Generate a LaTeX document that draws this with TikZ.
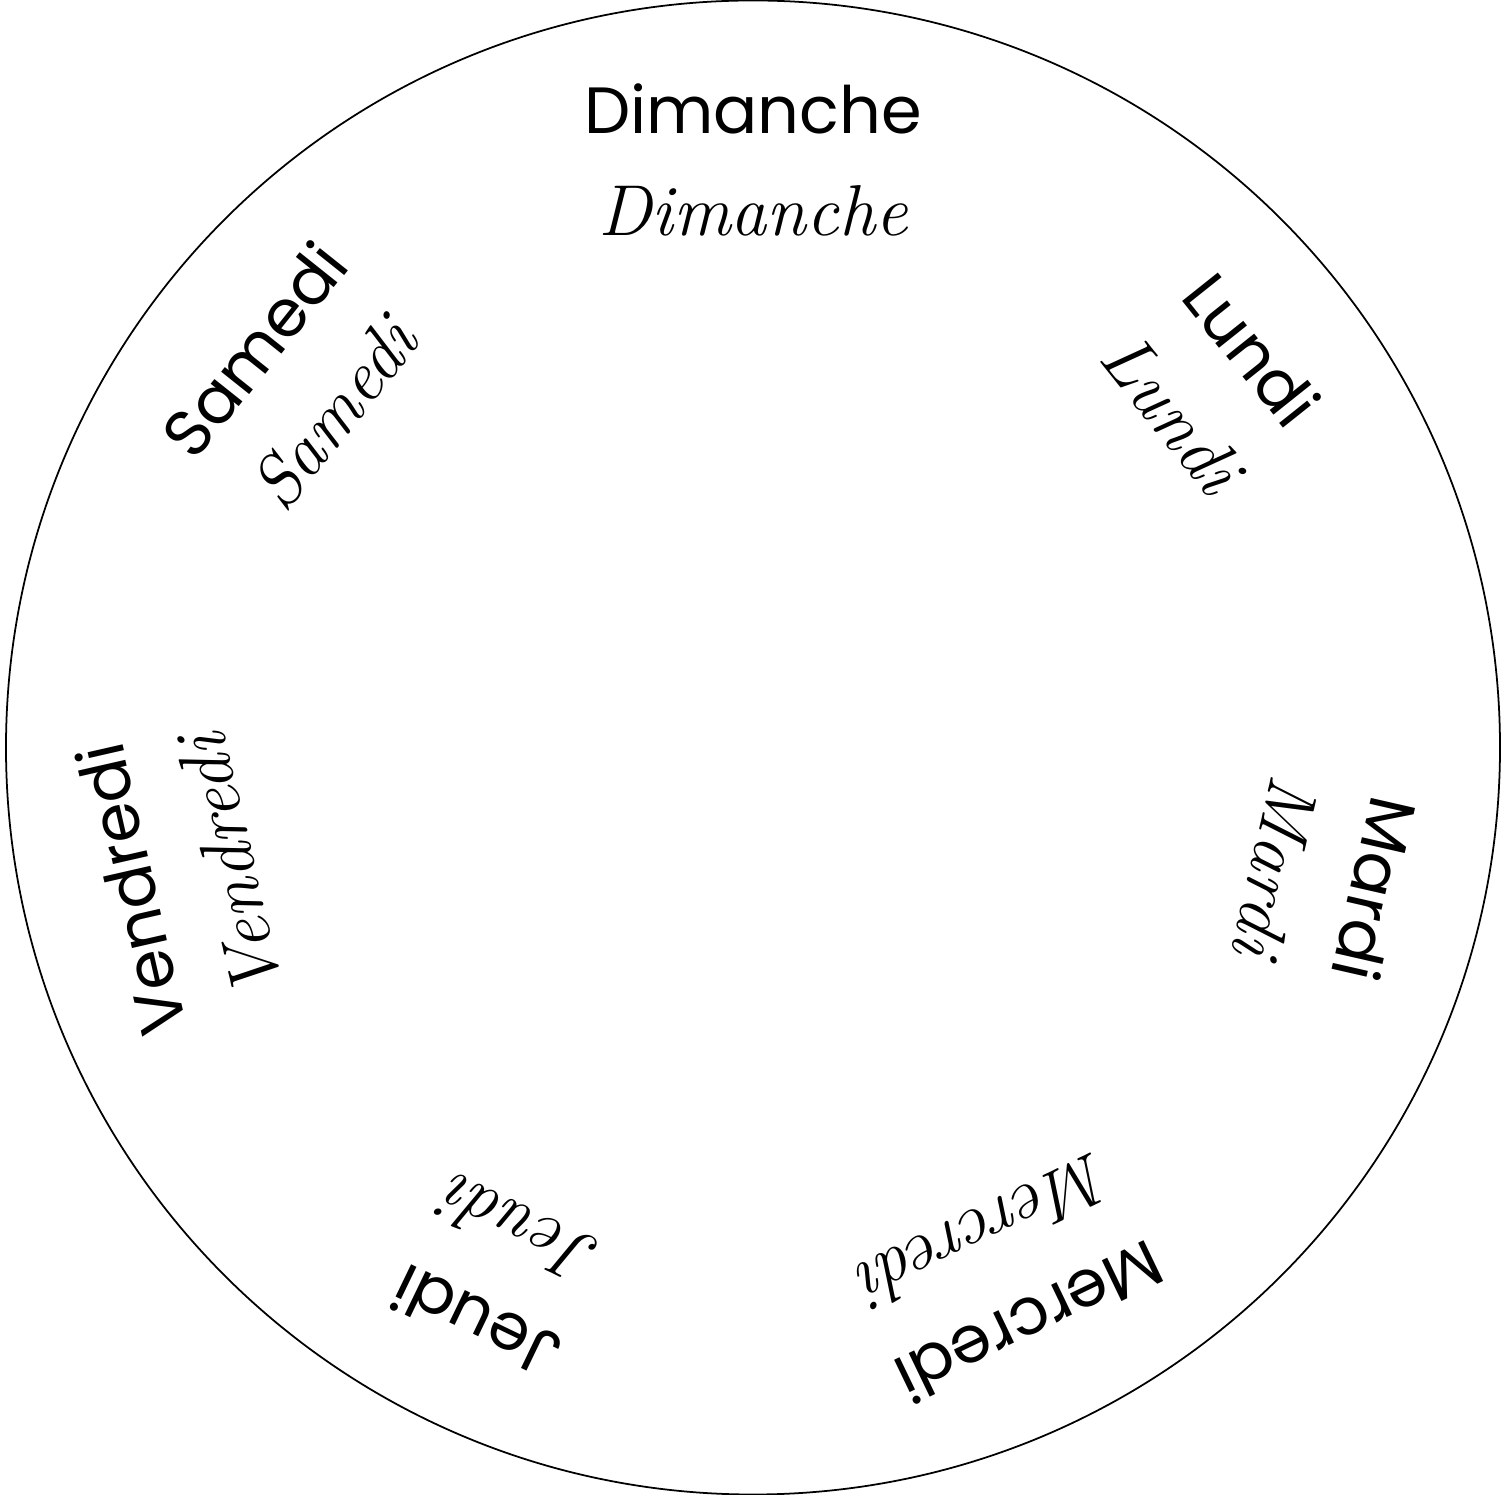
\documentclass[tikz,border=0pt]{standalone}
\usepackage{fontspec}
\newfontfamily\printfont{Poppins}
\usepackage{tikz}

\tikzset{
  printday/.style={font=\printfont\fontsize{18.6}{18.6}\selectfont,inner sep=0pt,anchor=base},
  cursiveday/.style={font=\itshape\fontsize{20.5}{20.5}\selectfont,inner sep=0pt,anchor=base}
}

\begin{document}
\begin{tikzpicture}[x=0.01cm,y=0.01cm]
\useasboundingbox (-753,-747.5) rectangle (754,747.5);
\draw[line width=0.5pt] (0,0) circle (747);
\foreach \i/\name in {0/Dimanche,1/Lundi,2/Mardi,3/Mercredi,4/Jeudi,5/Vendredi,6/Samedi}{
  \pgfmathsetmacro{\ang}{90-\i*360/7}
  \node[printday,rotate=\ang-90] (print\i) at (\ang:614) {\name};
  \node[cursiveday,rotate=\ang-90] (cursive\i) at (\ang:512) {\name};
}
\end{tikzpicture}
\end{document}
